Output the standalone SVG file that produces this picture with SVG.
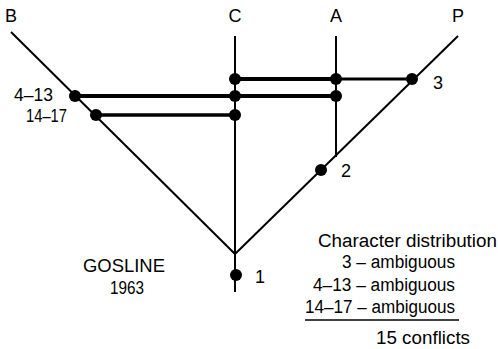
<svg xmlns="http://www.w3.org/2000/svg" width="498" height="349" viewBox="0 0 498 349">
<style>
.t{font-family:"Liberation Sans",Arial,sans-serif;font-size:18px;fill:#000}
.thin{stroke:#000;stroke-width:2;fill:none}
.thick{stroke:#000;stroke-width:4;fill:none}
.dot{fill:#000}
</style>
<rect width="498" height="349" fill="#fff"/>
<g id="connectors">
<line class="thin" x1="11" y1="32" x2="235" y2="254"/>
<line class="thin" x1="458" y1="36" x2="235" y2="254"/>
<line class="thin" x1="235" y1="36" x2="235" y2="292"/>
<line class="thin" x1="336" y1="36" x2="336" y2="157"/>
<line class="thick" x1="235" y1="79" x2="336" y2="79"/>
<line stroke="#000" stroke-width="3" x1="336" y1="79" x2="412" y2="79"/>
<line class="thick" x1="75" y1="96" x2="336" y2="96"/>
<line stroke="#000" stroke-width="3.5" x1="96" y1="115" x2="235" y2="115"/>
<line stroke="#000" stroke-width="1.5" x1="305" y1="320" x2="459" y2="320"/>
</g>
<g id="taxa">
<text class="t" x="11" y="22" text-anchor="middle">B</text>
<text class="t" x="235" y="22" text-anchor="middle">C</text>
<text class="t" x="336" y="22" text-anchor="middle">A</text>
<text class="t" x="458" y="22" text-anchor="middle">P</text>
</g>
<g id="node-3">
<circle class="dot" cx="235" cy="79" r="6"/>
<circle class="dot" cx="336" cy="79" r="6"/>
<circle class="dot" cx="412" cy="79" r="6"/>
<text class="t" x="433" y="89">3</text>
</g>
<g id="node-4-13">
<circle class="dot" cx="75" cy="96" r="6"/>
<circle class="dot" cx="235" cy="96" r="6"/>
<circle class="dot" cx="336" cy="96" r="6"/>
<text class="t" x="14" y="101" textLength="39" lengthAdjust="spacingAndGlyphs">4–13</text>
</g>
<g id="node-14-17">
<circle class="dot" cx="96" cy="115" r="6"/>
<circle class="dot" cx="235" cy="115" r="6"/>
<text class="t" x="26" y="122" textLength="41" lengthAdjust="spacingAndGlyphs">14–17</text>
</g>
<g id="node-2">
<circle class="dot" cx="321" cy="170" r="6"/>
<text class="t" x="341" y="177">2</text>
</g>
<g id="node-1">
<circle class="dot" cx="236" cy="275" r="6"/>
<text class="t" x="255" y="283">1</text>
</g>
<g id="title">
<text class="t" x="124" y="272" text-anchor="middle" textLength="82" lengthAdjust="spacingAndGlyphs">GOSLINE</text>
<text class="t" x="127" y="294" text-anchor="middle" textLength="34" lengthAdjust="spacingAndGlyphs">1963</text>
</g>
<g id="legend">
<text class="t" x="318" y="247" textLength="179" lengthAdjust="spacingAndGlyphs">Character distribution</text>
<text class="t" x="342" y="268" textLength="113" lengthAdjust="spacingAndGlyphs">3 – ambiguous</text>
<text class="t" x="313" y="291" textLength="142" lengthAdjust="spacingAndGlyphs">4–13 – ambiguous</text>
<text class="t" x="305" y="313" textLength="150" lengthAdjust="spacingAndGlyphs">14–17 – ambiguous</text>
<text class="t" x="376" y="344" textLength="94" lengthAdjust="spacingAndGlyphs">15 conflicts</text>
</g>
</svg>
